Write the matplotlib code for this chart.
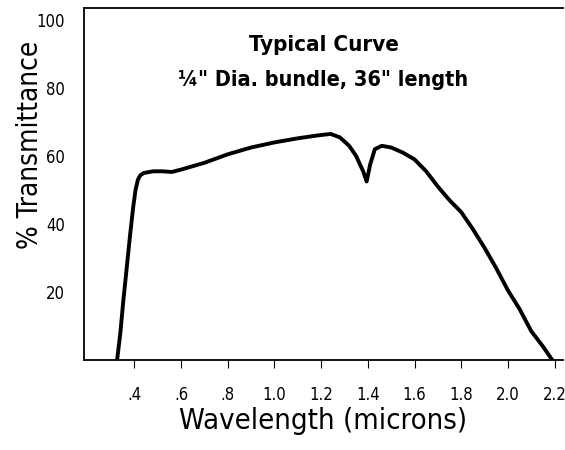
import matplotlib
matplotlib.use("Agg")
import matplotlib.pyplot as plt

# Transmittance curve.
wavelength = [0.326, 0.34, 0.352, 0.367, 0.382, 0.395, 0.405, 0.415, 0.425, 0.44,
              0.48, 0.52, 0.56, 0.60, 0.65, 0.70, 0.80, 0.90, 1.00, 1.10,
              1.18, 1.24, 1.28, 1.32, 1.35, 1.38, 1.395, 1.41, 1.43, 1.46,
              1.50, 1.55, 1.60, 1.65, 1.70, 1.75, 1.80, 1.85, 1.90, 1.95,
              2.00, 2.05, 2.10, 2.15, 2.19]
transmittance = [0, 8, 17, 27, 37, 45, 50, 53, 54.3, 55,
                 55.5, 55.5, 55.3, 56, 57, 58, 60.5, 62.5, 64, 65.2,
                 66, 66.5, 65.5, 63, 60, 55.5, 52.5, 57.5, 62, 63,
                 62.5, 61, 59, 55.5, 51, 47, 43.5, 38.5, 33, 27,
                 20.5, 15, 8.5, 4, 0]

x_ticks = [0.4, 0.6, 0.8, 1.0, 1.2, 1.4, 1.6, 1.8, 2.0, 2.2]
x_labels = [".4", ".6", ".8", "1.0", "1.2", "1.4", "1.6", "1.8", "2.0", "2.2"]
y_ticks = [20, 40, 60, 80, 100]

font = dict(family="DejaVu Sans", stretch="condensed")

fig = plt.figure(figsize=(5.65, 4.5), dpi=100)
ax = fig.add_axes([0.149, 0.2, 0.847, 0.782])

ax.plot(wavelength, transmittance, color="black", lw=2.8, solid_capstyle="round")

ax.set_xlim(0.185, 2.235)
ax.set_ylim(0, 103.5)

# Spines: left, bottom and top only.
ax.spines["right"].set_visible(False)
for side in ["left", "bottom", "top"]:
    ax.spines[side].set_linewidth(1.3)

ax.set_xticks(x_ticks, x_labels, fontsize=12, **font)
ax.set_yticks(y_ticks, [str(v) for v in y_ticks], fontsize=12, **font)
ax.tick_params(axis="x", direction="out", length=6, width=0.8, pad=13)
ax.tick_params(axis="y", length=0, pad=14)

ax.set_xlabel("Wavelength (microns)", fontsize=21, labelpad=2, **font)
ax.set_ylabel("% Transmittance", fontsize=20, labelpad=10, **font)
ax.yaxis.set_label_coords(-0.085, 0.61)

ax.text(0.5, 0.895, "Typical Curve", transform=ax.transAxes, ha="center",
        va="center", fontsize=16, fontweight="bold", **font)
ax.text(0.5, 0.795, "\u00bc\" Dia. bundle, 36\" length", transform=ax.transAxes,
        ha="center", va="center", fontsize=15.5, fontweight="bold", **font)

fig.savefig("out.png", dpi=100)
